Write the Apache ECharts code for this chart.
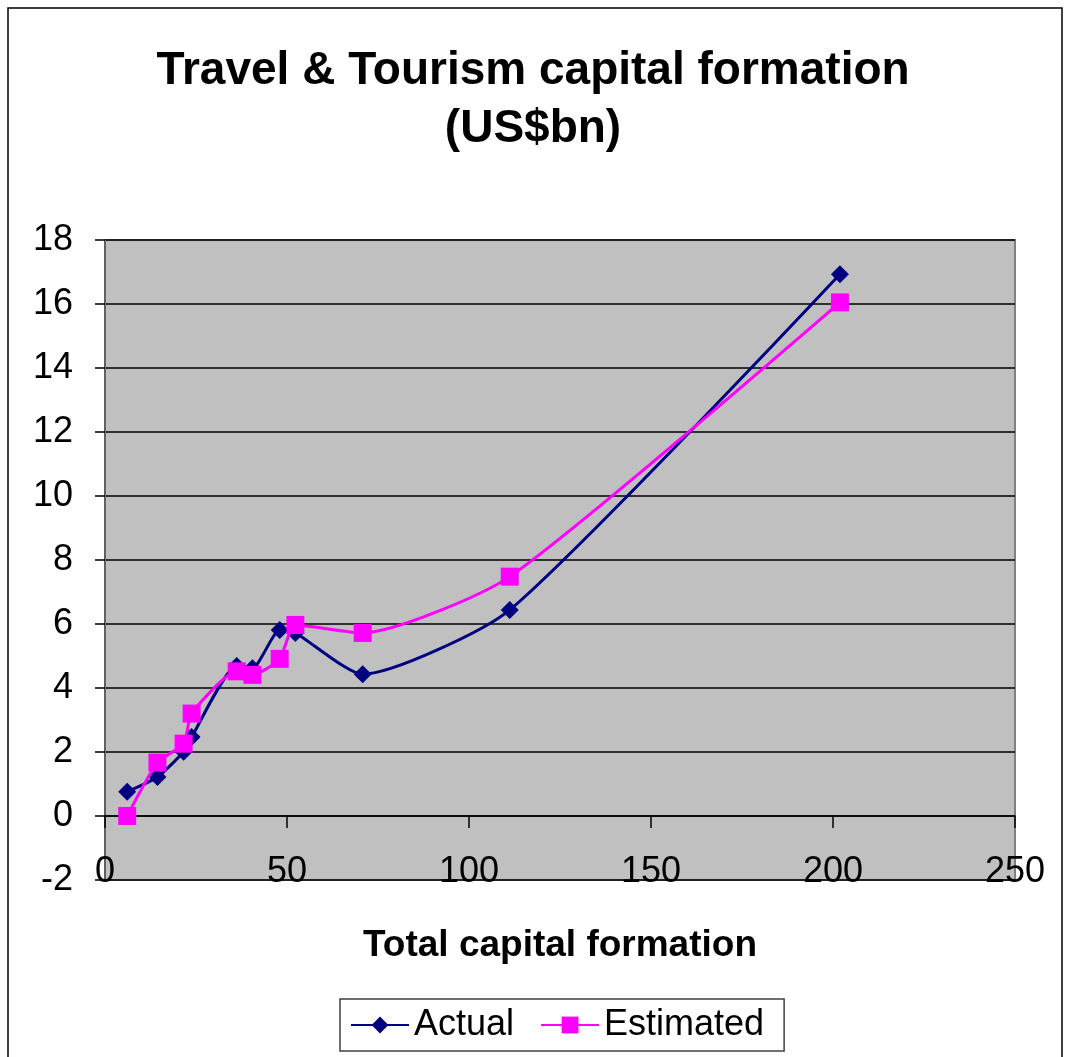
<!DOCTYPE html>
<html>
<head>
<meta charset="utf-8">
<script src="https://cdn.jsdelivr.net/npm/echarts@6/dist/echarts.min.js"></script>
<style>
html,body{margin:0;padding:0;background:#fff;}
#chart{width:1066px;height:1057px;}
</style>
</head>
<body>
<div id="chart"></div>
<script>
// Data
const xValues   = [6.1, 14.4, 21.6, 23.8, 36.2, 40.5, 48.0, 52.3, 70.8, 111.2, 201.9];
const actual    = [0.76, 1.22, 2.01, 2.47, 4.69, 4.62, 5.81, 5.72, 4.43, 6.44, 16.93];
const estimated = [0.0, 1.67, 2.26, 3.20, 4.52, 4.41, 4.91, 5.97, 5.72, 7.48, 16.05];
const seriesNames = ['Actual', 'Estimated'];
const titleText = 'Travel & Tourism capital formation\n(US$bn)';
const xAxisTitle = 'Total capital formation';

const pair = (ys) => xValues.map((x, i) => [x, ys[i]]);
const FONT = '"Liberation Sans", Arial, sans-serif';

const chart = echarts.init(document.getElementById('chart'), null, {renderer: 'canvas'});
chart.setOption({
  backgroundColor: '#ffffff',
  animation: false,
  title: {
    text: titleText,
    left: 'center',
    top: 37,
    textStyle: {fontFamily: FONT, fontSize: 46, fontWeight: 'bold', color: '#000', lineHeight: 58}
  },
  grid: {
    left: 105, top: 240, width: 910, height: 640,
    show: true, backgroundColor: '#C0C0C0', borderColor: '#808080', borderWidth: 2
  },
  xAxis: {
    type: 'value', min: 0, max: 250, interval: 50,
    axisLine: {show: true, onZero: true, lineStyle: {color: '#000', width: 1.5}},
    axisTick: {show: true, length: 12, lineStyle: {color: '#000', width: 1.5}},
    axisLabel: {fontFamily: FONT, fontSize: 36, color: '#000', margin: -26},
    splitLine: {show: false}
  },
  yAxis: {
    type: 'value', min: -2, max: 18, interval: 2,
    axisLine: {show: true, onZero: false, lineStyle: {color: '#606060', width: 2}},
    axisTick: {show: true, length: 10, lineStyle: {color: '#000', width: 1.5}},
    axisLabel: {fontFamily: FONT, fontSize: 36, color: '#000', margin: 32},
    splitLine: {show: true, lineStyle: {color: '#000', width: 1.5}}
  },
  legend: {
    left: 340, top: 999,
    padding: [8, 20, 8, 10],
    itemGap: 26, itemWidth: 58, itemHeight: 21,
    borderColor: '#404040', borderWidth: 1.5, backgroundColor: '#fff',
    textStyle: {fontFamily: FONT, fontSize: 36, color: '#000'},
    data: seriesNames
  },
  graphic: [
    {
      type: 'text', x: 560, y: 946,
      style: {text: xAxisTitle, fontFamily: FONT, fontSize: 37, fontWeight: 'bold', fill: '#000',
              textAlign: 'center', textVerticalAlign: 'middle'}
    },
    {
      type: 'rect', shape: {x: 8, y: 8, width: 1054, height: 1070}, silent: true,
      style: {fill: 'none', stroke: '#000', lineWidth: 1.5}
    }
  ],
  series: [
    {
      name: seriesNames[0], type: 'line', data: pair(actual), smooth: 0.2,
      symbol: 'diamond', symbolSize: 18, showAllSymbol: true,
      lineStyle: {color: '#000080', width: 3}, itemStyle: {color: '#000080'}, z: 3
    },
    {
      name: seriesNames[1], type: 'line', data: pair(estimated), smooth: 0.2,
      symbol: 'rect', symbolSize: 18, showAllSymbol: true,
      lineStyle: {color: '#FF00FF', width: 3}, itemStyle: {color: '#FF00FF'}, z: 4
    }
  ]
});
</script>
</body>
</html>
